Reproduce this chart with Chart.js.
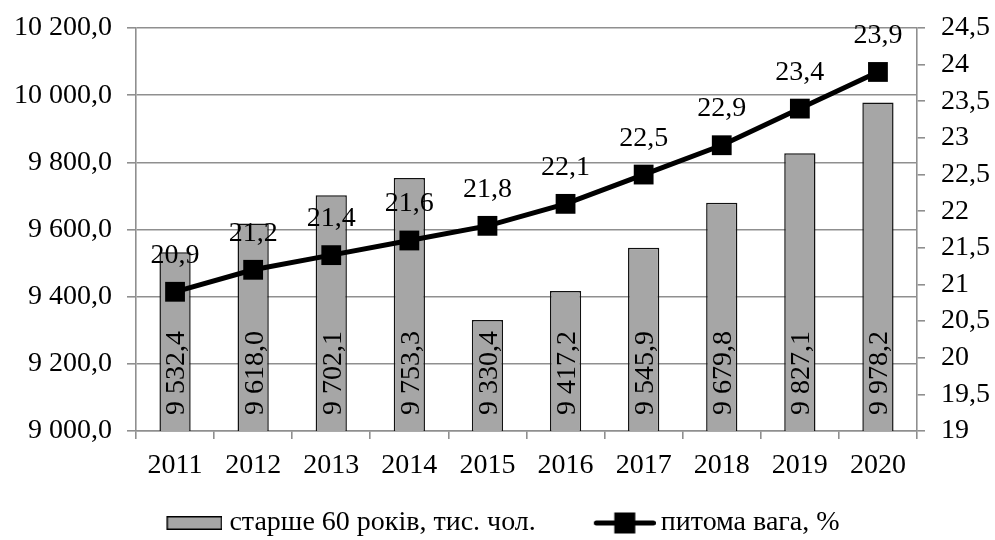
<!DOCTYPE html>
<html lang="uk">
<head>
<meta charset="utf-8">
<title>Населення старше 60 років</title>
<script src="https://cdn.jsdelivr.net/npm/chart.js@4.4.1/dist/chart.umd.min.js"></script>
<style>
  html, body { margin: 0; padding: 0; background: #fff; }
  #wrap { width: 995px; height: 540px; }
</style>
</head>
<body>
<div id="wrap"><canvas id="ageChart" width="995" height="540"></canvas></div>
<script>
// Population aged 60+ (thousand persons) and its share of the total, %
const years = ['2011', '2012', '2013', '2014', '2015', '2016', '2017', '2018', '2019', '2020'];
const olderThan60 = [9532.4, 9618.0, 9702.1, 9753.3, 9330.4, 9417.2, 9545.9, 9679.8, 9827.1, 9978.2];
const sharePct = [20.9, 21.2, 21.4, 21.6, 21.8, 22.1, 22.5, 22.9, 23.4, 23.9];
const barLabel = 'старше 60 років, тис. чол.';
const lineLabel = 'питома вага, %';

const FONT = "'Liberation Serif'";
const GRID = '#8f8f8f';
const BAR_FILL = '#a6a6a6';

// 9532.4 -> "9 532,4"
function fmt(v, digits) {
  const [int, dec] = Math.abs(v).toFixed(digits).split('.');
  const grouped = int.replace(/\B(?=(\d{3})+(?!\d))/g, ' ');
  return (v < 0 ? '-' : '') + grouped + (dec ? ',' + dec : '');
}

function legendIcon(w, h, draw) {
  const c = document.createElement('canvas');
  c.width = w;
  c.height = h;
  draw(c.getContext('2d'));
  return c;
}

// icons sit at the right edge of their canvas so the gap to the text stays small
const barIcon = legendIcon(94, 16, g => {
  g.fillStyle = BAR_FILL;
  g.fillRect(38.75, 1.75, 54.5, 12.5);
  g.strokeStyle = '#000';
  g.lineWidth = 1.5;
  g.strokeRect(38.75, 1.75, 54.5, 12.5);
});
const lineIcon = legendIcon(98, 24, g => {
  g.strokeStyle = '#000';
  g.lineWidth = 5;
  g.lineCap = 'round';
  g.beginPath();
  g.moveTo(38.5, 12);
  g.lineTo(95.5, 12);
  g.stroke();
  g.fillStyle = '#000';
  g.fillRect(56.5, 1.5, 21, 21);
});

// numbers inside the bars (rotated) and above the line points
const valueLabels = {
  id: 'valueLabels',
  afterDatasetsDraw(chart) {
    const ctx = chart.ctx;
    const base = chart.scales.y.getPixelForValue(chart.scales.y.min);
    ctx.save();
    ctx.font = `28px ${FONT}`;
    ctx.fillStyle = '#000';
    chart.getDatasetMeta(0).data.forEach((bar, i) => {
      ctx.save();
      ctx.translate(bar.x + 2, base - 16);
      ctx.rotate(-Math.PI / 2);
      ctx.textAlign = 'left';
      ctx.textBaseline = 'middle';
      ctx.fillText(fmt(olderThan60[i], 1), 0, 0);
      ctx.restore();
    });
    ctx.textAlign = 'center';
    ctx.textBaseline = 'alphabetic';
    chart.getDatasetMeta(1).data.forEach((pt, i) => {
      ctx.fillText(fmt(sharePct[i], 1), pt.x, pt.y - 29);
    });
    ctx.restore();
  }
};

// fixed axis widths; no extra label padding above/below the value axes
function fixWidth(w) {
  return s => {
    s.width = w;
    s.paddingTop = 0;
    s.paddingBottom = 0;
  };
}

Chart.defaults.font.family = FONT;
Chart.defaults.font.size = 28;
Chart.defaults.color = '#000';

new Chart(document.getElementById('ageChart'), {
  type: 'bar',
  data: {
    labels: years,
    datasets: [
      {
        label: barLabel,
        data: olderThan60,
        yAxisID: 'y',
        backgroundColor: BAR_FILL,
        borderColor: '#111',
        borderWidth: 1.5,
        barPercentage: 0.4,
        categoryPercentage: 1,
        order: 1
      },
      {
        type: 'line',
        label: lineLabel,
        data: sharePct,
        yAxisID: 'y1',
        borderColor: '#000',
        borderWidth: 5,
        tension: 0,
        pointStyle: 'rect',
        pointRadius: 14,
        pointBackgroundColor: '#000',
        pointBorderWidth: 0,
        clip: false,
        order: 0
      }
    ]
  },
  options: {
    responsive: false,
    animation: false,
    events: [],
    layout: { padding: { top: 28, left: -20, right: 0, bottom: 0 } },
    scales: {
      x: {
        grid: { drawOnChartArea: false, color: GRID, lineWidth: 1.6, tickLength: 8 },
        border: { color: GRID, width: 1.6 },
        ticks: { padding: 10, maxRotation: 0, font: { family: FONT, size: 28 } },
        afterFit: s => { s.height = 47; }
      },
      y: {
        position: 'left',
        min: 9000,
        max: 10200,
        grid: { color: GRID, lineWidth: 1.6, tickLength: 9 },
        border: { color: GRID, width: 1.6 },
        ticks: { stepSize: 200, padding: 15, autoSkip: false, font: { family: FONT, size: 28 }, callback: v => fmt(v, 1) },
        afterFit: fixWidth(156)
      },
      y1: {
        position: 'right',
        min: 19,
        max: 24.5,
        grid: { drawOnChartArea: false, color: GRID, lineWidth: 1.6, tickLength: 8 },
        border: { color: GRID, width: 1.6 },
        ticks: { stepSize: 0.5, padding: 16, autoSkip: false, font: { family: FONT, size: 28 },
                 callback: v => Number.isInteger(v) ? String(v) : fmt(v, 1) },
        afterFit: fixWidth(78)
      }
    },
    plugins: {
      tooltip: { enabled: false },
      legend: {
        position: 'bottom',
        maxHeight: 62,
        labels: {
          usePointStyle: true,
          pointStyleWidth: 80,
          padding: 31,
          color: '#000',
          font: { family: FONT, size: 28 },
          generateLabels: () => [
            { text: barLabel, pointStyle: barIcon, fillStyle: BAR_FILL, strokeStyle: '#000', lineWidth: 0, hidden: false, datasetIndex: 0 },
            { text: lineLabel, pointStyle: lineIcon, fillStyle: '#000', strokeStyle: '#000', lineWidth: 0, hidden: false, datasetIndex: 1 }
          ]
        }
      }
    }
  },
  plugins: [valueLabels]
});
</script>
</body>
</html>
